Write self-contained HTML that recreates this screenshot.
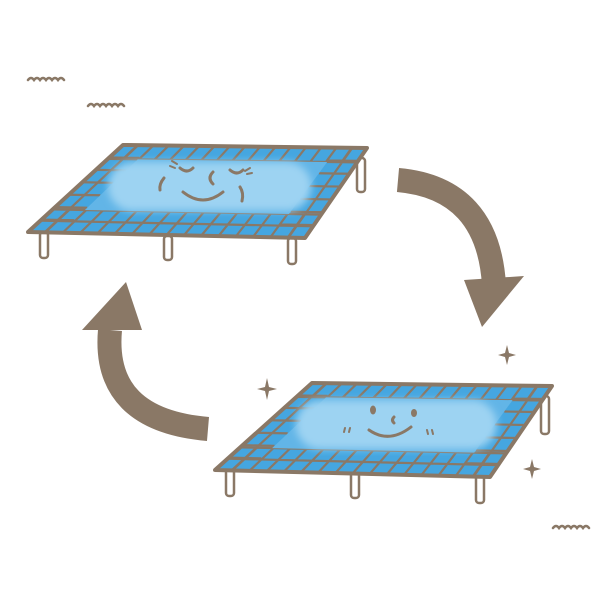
<!DOCTYPE html>
<html><head><style>html,body{margin:0;padding:0;background:#fff}svg{display:block}</style></head>
<body>
<svg id="s" width="600" height="600" viewBox="0 0 600 600" xmlns="http://www.w3.org/2000/svg">
<defs>
<filter id="bl" x="-20%" y="-40%" width="140%" height="180%"><feGaussianBlur stdDeviation="4"/></filter>
</defs>
<g fill="none" stroke="#8a7866" stroke-width="2.5" stroke-linecap="round">
<path d="M28 80 q3 -4 6 0 q3 -4 6 0 q3 -4 6 0 q3 -4 6 0 q3 -4 6 0 q3 -4 6 0"/>
<path d="M88 106 q3 -4 6 0 q3 -4 6 0 q3 -4 6 0 q3 -4 6 0 q3 -4 6 0 q3 -4 6 0"/>
<path d="M553 528 q3 -4 6 0 q3 -4 6 0 q3 -4 6 0 q3 -4 6 0 q3 -4 6 0 q3 -4 6 0"/>
</g>
<g fill="none" stroke="#8a7866" stroke-width="24">
<path d="M398 180 Q488 188 494 285"/>
<path d="M208 429 Q102 420 110 330"/>
</g>
<g fill="#8a7866">
<polygon points="464,280 524,276 482,327"/>
<polygon points="126,282 82,330 142,330"/>
<path d="M507 345 l2 8 l7 2 l-7 2 l-2 8 l-2 -8 l-7 -2 l7 -2z"/>
<path d="M267 378 l2 9 l8 2 l-8 2 l-2 9 l-2 -9 l-8 -2 l8 -2z"/>
<path d="M532 459 l2 8 l7 2 l-7 2 l-2 8 l-2 -8 l-7 -2 l7 -2z"/>
</g>
<g id="panels"></g>
</svg>
<script>
const NS="http://www.w3.org/2000/svg";
const g=document.getElementById('panels');
function el(t,a,p){const e=document.createElementNS(NS,t);for(const k in a)e.setAttribute(k,a[k]);(p||g).appendChild(e);return e;}
function panel(TL,TR,BR,BL,legs,face){
 const P=(u,v)=>[TL[0]*(1-u)*(1-v)+TR[0]*u*(1-v)+BR[0]*u*v+BL[0]*(1-u)*v, TL[1]*(1-u)*(1-v)+TR[1]*u*(1-v)+BR[1]*u*v+BL[1]*(1-u)*v];
 legs.forEach(l=>{el('rect',{x:l[0]-4,y:l[1],width:8,height:l[2],rx:3,fill:'#fff',stroke:'#8a7866','stroke-width':2.5});});
 el('polygon',{points:[TL,TR,BR,BL].map(p=>p.join(',')).join(' '),fill:'#45a6e0',stroke:'#8a7866','stroke-width':4,'stroke-linejoin':'round'});
 let d='';
 const NC=16,NR=7,bt=0.16,bb=0.26,bu=0.12;
 for(let i=1;i<NC;i++){const u=i/NC;[[0,bt],[1-bb,1]].forEach(r=>{const a=P(u,r[0]),b=P(u,r[1]);d+=`M${a}L${b}`;});}
 for(let i=1;i<NR;i++){const v=i/NR;[[0,bu],[1-bu,1]].forEach(r=>{const a=P(r[0],v),b=P(r[1],v);d+=`M${a}L${b}`;});}
 [1-bb/2].forEach(v=>{const a=P(0,v),b=P(1,v);d+=`M${a}L${b}`;});
 [bt,1-bb].forEach(v=>{const a=P(0,v),b=P(1,v);d+=`M${a}L${b}`;});
 [bu/2,1-bu/2].forEach(u=>{const a=P(u,0),b=P(u,1);d+=`M${a}L${b}`;});
 el('path',{d,stroke:'#8a7866','stroke-width':2.2,fill:'none'});
 const pts=[P(bu,bt),P(1-bu,bt),P(1-bu,1-bb),P(bu,1-bb)].map(p=>p.join(',')).join(' ');
 el('polygon',{points:pts,fill:'#62b5e7'});
 const c=P(0.5,(bt+1-bb)/2);const w=(TR[0]-TL[0]+BR[0]-BL[0])/2*0.78;const h=(BL[1]-TL[1])*0.56;
 el('rect',{x:c[0]-w/2,y:c[1]-h/2,width:w,height:h,rx:h/2,fill:'#9dd3f2',filter:'url(#bl)'});
 const f=el('g',{fill:'none',stroke:'#8a7866','stroke-width':3,'stroke-linecap':'round'});
 f.innerHTML=face;
}
panel([123,145],[367,148],[305,238],[28,232],[[44,232,26],[168,236,24],[292,238,26],[361,158,34]],
 `<path d="M180 168 q7 6 13 0"/><path d="M230 170 q7 6 13 0"/><path d="M213 172 q-6 6 0 12"/><path d="M183 192 q20 16 40 0"/><path d="M164 178 q-5 6 -4 12"/><path d="M240 187 q4 6 2 14"/><path d="M172 161 l5 3 M170 166 l5 2 M250 168 l-5 3 M252 173 l-5 1" stroke-width="2"/>`);
panel([312,383],[552,386],[490,477],[215,470],[[230,468,28],[355,472,26],[480,475,28],[545,396,38]],
 `<ellipse cx="373" cy="410" rx="3" ry="4.5" fill="#8a7866" stroke="none"/><ellipse cx="414" cy="413" rx="3" ry="4" fill="#8a7866" stroke="none"/><path d="M394 417 q-3 3 0 6"/><path d="M369 430 q20 14 42 -3"/><path d="M345 428 l-1 4 M350 428 l-1 4 M427 430 l1 4 M432 430 l1 4" stroke-width="2"/>`);
</script>
</body></html>
